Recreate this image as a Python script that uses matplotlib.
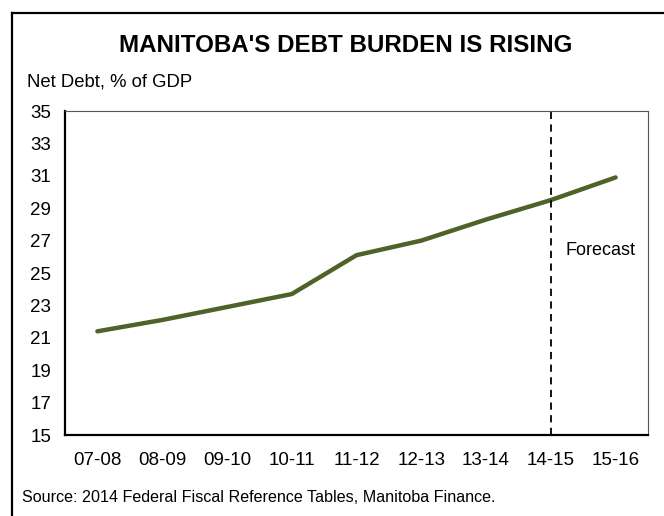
import matplotlib.pyplot as plt
from matplotlib.lines import Line2D

plt.rcParams['font.family'] = ['Liberation Sans', 'DejaVu Sans']

years = ['07-08', '08-09', '09-10', '10-11', '11-12', '12-13', '13-14', '14-15', '15-16']
net_debt = [21.4, 22.1, 22.9, 23.7, 26.1, 27.0, 28.3, 29.5, 30.9]
forecast_start = '14-15'

W, H = 664, 516
fig = plt.figure(figsize=(W / 100, H / 100), dpi=100)
ax = fig.add_axes([65 / W, 1 - 435 / H, (648 - 65) / W, (435 - 111) / H])

x = list(range(len(years)))
ax.plot(x, net_debt, color='#4F6228', lw=3.2, solid_capstyle='round')
fx = years.index(forecast_start)
ax.axvline(fx, color='black', lw=1.3, ls=(0, (4, 3)))
ax.text(fx + 0.22, 26.4, 'Forecast', fontsize=13, va='center', ha='left')

ax.set_xlim(-0.5, len(years) - 0.5)
ax.set_ylim(15, 35)
ax.set_yticks(range(15, 36, 2))
ax.set_xticks(x)
ax.set_xticklabels(years)
ax.tick_params(length=0, labelsize=13.5)
ax.tick_params(axis='y', pad=10)
ax.tick_params(axis='x', pad=12)

for s in ['left', 'bottom']:
    ax.spines[s].set_linewidth(1.6)
    ax.spines[s].set_color('black')
for s in ['top', 'right']:
    ax.spines[s].set_linewidth(0.8)
    ax.spines[s].set_color('#555555')

fig.text(346 / W, 1 - 46 / H, "MANITOBA'S DEBT BURDEN IS RISING", fontsize=17.4,
         fontweight='bold', ha='center', va='center')
fig.text(27 / W, 1 - 82 / H, 'Net Debt, % of GDP', fontsize=13.3, ha='left', va='center')
fig.text(22 / W, 1 - 497 / H, 'Source: 2014 Federal Fiscal Reference Tables, Manitoba Finance.',
         fontsize=11.6, ha='left', va='center')

# outer frame: only left and top edges are visible in the crop
fig.add_artist(Line2D([12 / W, 12 / W], [0, 1 - 13 / H], color='black', lw=1.6,
                      transform=fig.transFigure))
fig.add_artist(Line2D([12 / W, 1], [1 - 13 / H, 1 - 13 / H], color='black', lw=1.6,
                      transform=fig.transFigure))

fig.savefig('out.png', dpi=100)
